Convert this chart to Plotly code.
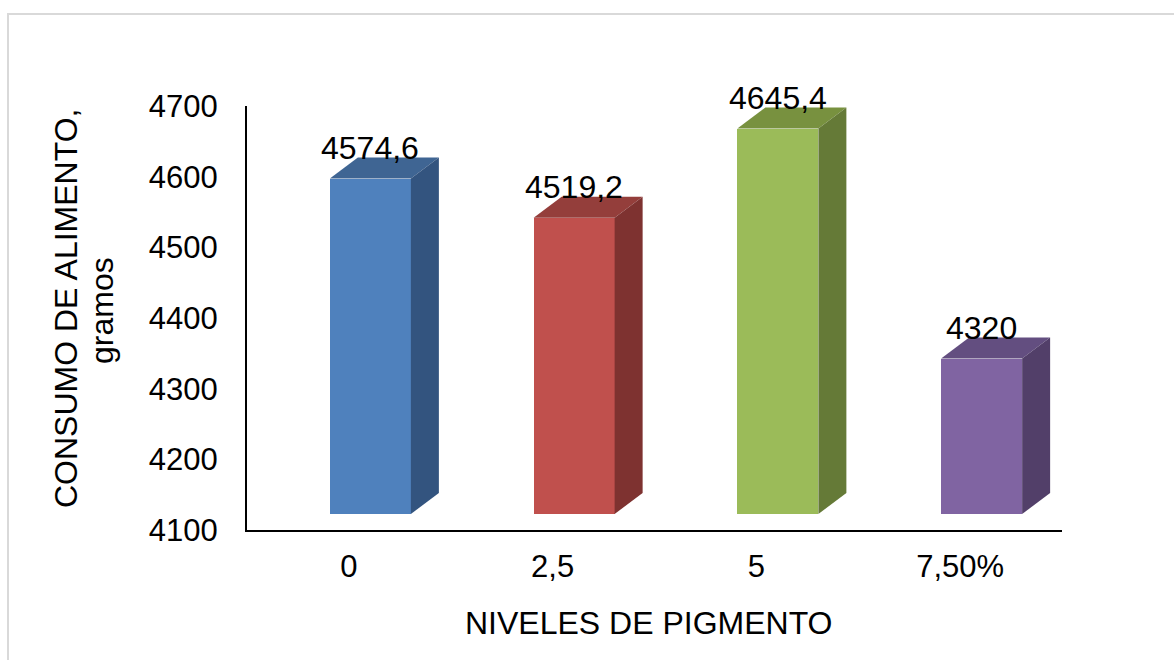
import plotly.graph_objects as go

# Feed consumption by pigment level
niveles = ["0", "2,5", "5", "7,50%"]
consumo = [4574.6, 4519.2, 4645.4, 4320.0]
etiquetas = ["4574,6", "4519,2", "4645,4", "4320"]

# Face colours for each column: front, top, side
frente = ["#4F81BD", "#C0504D", "#9BBB59", "#8064A2"]
arriba = ["#3F6593", "#943E3B", "#78913F", "#634E80"]
lado = ["#33547F", "#7E3230", "#657A37", "#523F69"]

Y_MIN, Y_MAX, Y_STEP = 4100, 4700, 100

# Canvas geometry (pixels)
W, H = 1174, 660
PL, PR, PT, PB = 247, 1062, 106, 530          # plot-area edges
px_x = (len(niveles)) / (PR - PL)              # category units per pixel
px_y = (Y_MAX - Y_MIN) / (PB - PT)             # value units per pixel

# Oblique 3-D projection offsets
FRONT_SHIFT_X = 21.5 * px_x    # front faces sit right of the category centre
FRONT_SHIFT_Y = 16 * px_y      # and lifted above the floor line
DEPTH_X = 28 * px_x
DEPTH_Y = 21 * px_y
BAR_W = 81 * px_x

FONT = "Liberation Sans, Arial, sans-serif"
FS = 32
FS_TICK = 31

fig = go.Figure()

xs = list(range(len(niveles)))

# empty trace so the main (labelled) axes are drawn
fig.add_trace(go.Scatter(
    x=xs, y=[None] * len(xs), mode="markers", xaxis="x", yaxis="y",
    showlegend=False, hoverinfo="skip",
))

# front faces
fig.add_trace(go.Bar(
    x=xs, y=[v - Y_MIN for v in consumo], base=Y_MIN,
    width=BAR_W, marker=dict(color=frente, line=dict(width=0)),
    xaxis="x2", yaxis="y2", showlegend=False, hoverinfo="skip",
))

# top and side faces
for i, v in enumerate(consumo):
    xl = xs[i] - BAR_W / 2
    xr = xs[i] + BAR_W / 2
    fig.add_trace(go.Scatter(
        x=[xl, xr, xr + DEPTH_X, xl + DEPTH_X, xl],
        y=[v, v, v + DEPTH_Y, v + DEPTH_Y, v],
        fill="toself", fillcolor=arriba[i], mode="lines",
        line=dict(width=0, color=arriba[i]),
        xaxis="x2", yaxis="y2", showlegend=False, hoverinfo="skip",
    ))
    fig.add_trace(go.Scatter(
        x=[xr, xr + DEPTH_X, xr + DEPTH_X, xr, xr],
        y=[Y_MIN, Y_MIN + DEPTH_Y, v + DEPTH_Y, v, Y_MIN],
        fill="toself", fillcolor=lado[i], mode="lines",
        line=dict(width=0, color=lado[i]),
        xaxis="x2", yaxis="y2", showlegend=False, hoverinfo="skip",
    ))

# value labels above each column
annotations = []
for i, v in enumerate(consumo):
    annotations.append(dict(
        x=xs[i], y=v, xref="x2", yref="y2", text=etiquetas[i],
        showarrow=False, yanchor="bottom", xanchor="center", yshift=11,
        font=dict(family=FONT, size=FS, color="black"),
    ))

def paper_x(p):
    return (p - PL) / (PR - PL)

def paper_y(p):
    return (PB - p) / (PB - PT)

# axis titles
annotations.append(dict(
    x=paper_x(649), y=paper_y(623), xref="paper", yref="paper",
    text="NIVELES DE PIGMENTO", showarrow=False,
    xanchor="center", yanchor="middle",
    font=dict(family=FONT, size=FS, color="black"),
))
annotations.append(dict(
    x=paper_x(66), y=paper_y(309), xref="paper", yref="paper",
    text="CONSUMO DE ALIMENTO,", showarrow=False, textangle=-90,
    xanchor="center", yanchor="middle",
    font=dict(family=FONT, size=FS, color="black"),
))
annotations.append(dict(
    x=paper_x(102), y=paper_y(311), xref="paper", yref="paper",
    text="gramos", showarrow=False, textangle=-90,
    xanchor="center", yanchor="middle",
    font=dict(family=FONT, size=FS, color="black"),
))

# chart-area border
shapes = [dict(
    type="rect", xref="paper", yref="paper",
    x0=paper_x(8), x1=paper_x(W + 20), y0=paper_y(H + 20), y1=paper_y(14),
    line=dict(color="#D9D9D9", width=2), fillcolor="rgba(0,0,0,0)", layer="below",
)]

fig.update_layout(
    width=W, height=H,
    margin=dict(l=PL, r=W - PR, t=PT, b=H - PB, pad=0),
    paper_bgcolor="white", plot_bgcolor="white",
    showlegend=False,
    font=dict(family=FONT, size=FS, color="black"),
    xaxis=dict(
        range=[-0.5, len(niveles) - 0.5], tickvals=xs, ticktext=niveles,
        showgrid=False, zeroline=False, showline=True, linecolor="black",
        linewidth=2, ticks="", ticklabelstandoff=8,
        tickfont=dict(family=FONT, size=FS_TICK, color="black"), fixedrange=True,
    ),
    yaxis=dict(
        range=[Y_MIN, Y_MAX], dtick=Y_STEP, tick0=Y_MIN,
        showgrid=False, zeroline=False, showline=True, linecolor="black",
        linewidth=2, ticks="", ticklabelstandoff=21,
        tickfont=dict(family=FONT, size=FS_TICK, color="black"), fixedrange=True,
    ),
    xaxis2=dict(
        overlaying="x", visible=False, fixedrange=True,
        range=[-0.5 - FRONT_SHIFT_X, len(niveles) - 0.5 - FRONT_SHIFT_X],
    ),
    yaxis2=dict(
        overlaying="y", visible=False, fixedrange=True,
        range=[Y_MIN - FRONT_SHIFT_Y, Y_MAX - FRONT_SHIFT_Y],
    ),
    annotations=annotations,
    shapes=shapes,
    bargap=0,
)

fig.write_html("out.html", config={"displayModeBar": False})
